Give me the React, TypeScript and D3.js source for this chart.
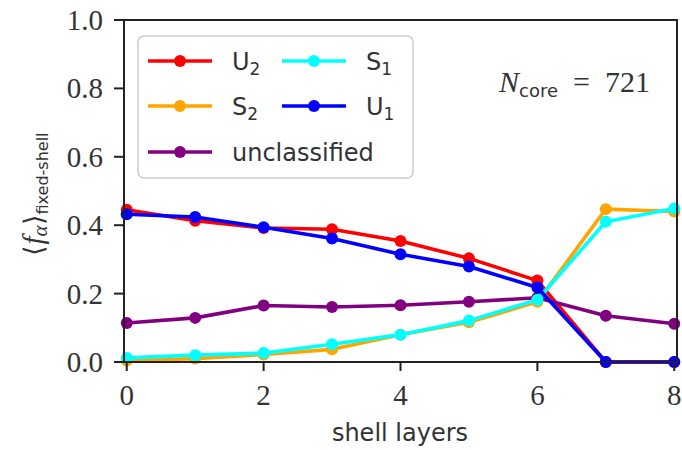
import React from "react";
import { scaleLinear, line } from "d3";

// shell layer index on the x axis
const layers = [0, 1, 2, 3, 4, 5, 6, 7, 8];
const u2 = [0.445, 0.413, 0.392, 0.388, 0.354, 0.303, 0.238, 0.0, 0.0];
const s2 = [0.004, 0.01, 0.022, 0.037, 0.08, 0.116, 0.176, 0.447, 0.44];
const unclassified = [0.114, 0.129, 0.165, 0.161, 0.166, 0.176, 0.188, 0.135, 0.112];
const s1 = [0.012, 0.02, 0.026, 0.052, 0.08, 0.121, 0.182, 0.41, 0.449];
const u1 = [0.432, 0.424, 0.394, 0.361, 0.315, 0.279, 0.218, 0.0, 0.0];

const xTicks = [0, 2, 4, 6, 8];
const yTicks = [0, 0.2, 0.4, 0.6, 0.8, 1.0];

// drawn in legend order (matplotlib, ncol=2 goes down the columns)
const series = [
  { name: "U", sub: "2", color: "#ff0000", values: u2 },
  { name: "S", sub: "2", color: "#ffa500", values: s2 },
  { name: "unclassified", sub: "", color: "#800080", values: unclassified },
  { name: "S", sub: "1", color: "#00ffff", values: s1 },
  { name: "U", sub: "1", color: "#0000ff", values: u1 },
];

const W = 682;
const H = 450;
const plot = { left: 124, right: 677, top: 20, bottom: 362 };
const serif = "'Liberation Serif', serif";
const sans = "'DejaVu Sans', sans-serif";
const ink = "#333";

export default function App() {
  const x = scaleLinear().domain([-0.04, 8.04]).range([plot.left, plot.right]);
  const y = scaleLinear().domain([0, 1]).range([plot.bottom, plot.top]);

  const path = line<number>()
    .x((_, i) => x(layers[i]))
    .y((d) => y(d));

  // legend slots: column, row
  const slots = [
    [0, 0],
    [0, 1],
    [0, 2],
    [1, 0],
    [1, 1],
  ];
  const legX = [148, 282];
  const legY = [61, 106, 152];

  return (
    <svg width={W} height={H} style={{ position: "absolute", left: 0, top: 0, background: "#fff" }}>
      {/* series */}
      {series.map((s) => (
        <g key={s.name + s.sub}>
          <path d={path(s.values) || ""} fill="none" stroke={s.color} strokeWidth={3.6} strokeLinejoin="round" />
          {s.values.map((v, i) => (
            <circle key={i} cx={x(layers[i])} cy={y(v)} r={6} fill={s.color} />
          ))}
        </g>
      ))}

      {/* frame */}
      <rect
        x={plot.left}
        y={plot.top}
        width={plot.right - plot.left}
        height={plot.bottom - plot.top}
        fill="none"
        stroke="#222"
        strokeWidth={2}
      />

      {/* y axis */}
      {yTicks.map((t) => (
        <g key={t}>
          <line x1={plot.left - 10} x2={plot.left} y1={y(t)} y2={y(t)} stroke="#222" strokeWidth={2} />
          <text x={plot.left - 21} y={y(t) + 10} textAnchor="end" fontFamily={serif} fontSize={29} fill={ink}>
            {t.toFixed(1)}
          </text>
        </g>
      ))}

      {/* x axis */}
      {xTicks.map((t) => (
        <g key={t}>
          <line x1={x(t)} x2={x(t)} y1={plot.bottom} y2={plot.bottom + 9} stroke="#222" strokeWidth={2} />
          <text x={x(t)} y={405} textAnchor="middle" fontFamily={serif} fontSize={29} fill={ink}>
            {t}
          </text>
        </g>
      ))}
      <text x={400} y={441} textAnchor="middle" fontFamily={sans} fontSize={24} fill={ink}>
        shell layers
      </text>

      {/* y label */}
      <text transform="translate(43,194) rotate(-90)" textAnchor="middle" fill={ink}>
        <tspan fontFamily={serif} fontSize={27}>⟨</tspan>
        <tspan fontFamily={serif} fontSize={29} fontStyle="italic">f</tspan>
        <tspan fontFamily={serif} fontSize={21} fontStyle="italic" dy={4}>α</tspan>
        <tspan fontFamily={serif} fontSize={27} dy={-4}>⟩</tspan>
        <tspan fontFamily={sans} fontSize={16} dy={5}>fixed-shell</tspan>
      </text>

      {/* annotation */}
      <text x={650} y={92} textAnchor="end" fill={ink}>
        <tspan fontFamily={serif} fontSize={30} fontStyle="italic">N</tspan>
        <tspan fontFamily={sans} fontSize={18} dy={5}>core</tspan>
        <tspan fontFamily={serif} fontSize={30} dy={-5}>{"\u2002=\u2002721"}</tspan>
      </text>

      {/* legend */}
      <rect x={138} y={36} width={275} height={142} rx={6} fill="#fff" fillOpacity={0.85} stroke="#ccc" strokeWidth={1.5} />
      {series.map((s, i) => {
        const [c, r] = slots[i];
        const lx = legX[c];
        const ly = legY[r];
        return (
          <g key={"leg" + i}>
            <line x1={lx} x2={lx + 64} y1={ly} y2={ly} stroke={s.color} strokeWidth={3.6} />
            <circle cx={lx + 32} cy={ly} r={6} fill={s.color} />
            <text x={lx + 84} y={ly + 9} fontFamily={sans} fontSize={24} fill={ink}>
              {s.name}
              {s.sub && (
                <tspan fontSize={17} dy={5}>
                  {s.sub}
                </tspan>
              )}
            </text>
          </g>
        );
      })}
    </svg>
  );
}
